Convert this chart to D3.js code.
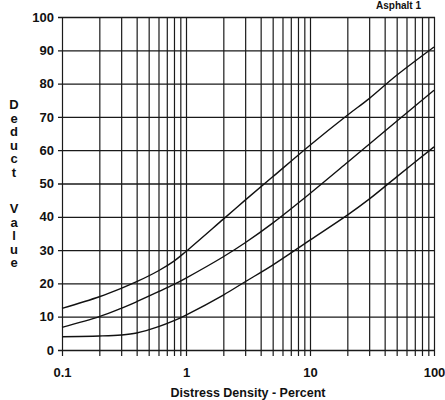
<!DOCTYPE html>
<html>
<head>
<meta charset="utf-8">
<script src="https://cdn.jsdelivr.net/npm/d3@7"></script>
<style>
  body { margin: 0; background: #fff; }
  text { font-family: "Liberation Sans", Arial, sans-serif; fill: #111; }
</style>
</head>
<body>
<div id="chart"></div>
<script>
var svgWidth = 445;
var svgHeight = 400;

// distress density (%) and deduct values
var density = [0.1, 0.2, 0.3, 0.4, 0.6, 0.8, 1, 2, 3, 5, 10, 20, 30, 50, 100];
var highCurve = [12.5, 16, 18.5, 20.5, 23.8, 26.7, 29.6, 39.3, 45, 52, 61.5, 70.5, 75.5, 82.5, 91];
var mediumCurve = [6.8, 10, 12.5, 14.5, 17.5, 19.7, 21.6, 28, 32.2, 38.1, 47, 56.3, 61.8, 68.7, 78];
var lowCurve = [4, 4.2, 4.5, 5.1, 7, 8.8, 10.5, 16.5, 20.5, 25.5, 33, 40.5, 45.3, 52, 61];

var xTicks = [0.1, 1, 10, 100];
var yTicks = [0, 10, 20, 30, 40, 50, 60, 70, 80, 90, 100];
var yLetters1 = ["D", "e", "d", "u", "c", "t"];
var yLetters2 = ["V", "a", "l", "u", "e"];

var svg = d3.select("#chart")
  .append("svg")
  .attr("width", svgWidth)
  .attr("height", svgHeight);

var x = d3.scaleLog().domain([0.1, 100]).range([62, 434]);
var y = d3.scaleLinear().domain([0, 100]).range([350, 17]);

// every minor log line 0.1..100
var xGrid = [];
[0.1, 1, 10].forEach(function(d) {
  for (var i = 1; i < 10; i++) xGrid.push(+(d * i).toFixed(3));
});
xGrid.push(100);

// vertical grid lines as bottom axis ticks
var xAxis = svg.append("g")
  .attr("transform", "translate(0," + 356 + ")")
  .call(d3.axisBottom(x)
    .tickValues(xGrid)
    .tickSize(-(356 - 17))
    .tickSizeOuter(0)
    .tickPadding(12)
    .tickFormat(function(d) { return xTicks.indexOf(d) >= 0 ? String(d) : ""; }));
xAxis.select(".domain").remove();
xAxis.selectAll("line").attr("stroke", "#1a1a1a").attr("stroke-width", 1.2);
xAxis.selectAll("text")
  .style("font-size", "13px")
  .style("font-weight", "bold")
  .style("font-family", "'Liberation Sans', Arial, sans-serif")
  .attr("fill", "#111");

// horizontal grid lines as left axis ticks
var yAxis = svg.append("g")
  .attr("transform", "translate(" + 58 + ",0)")
  .call(d3.axisLeft(y)
    .tickValues(yTicks)
    .tickSize(-(435 - 58))
    .tickSizeOuter(0)
    .tickPadding(4));
yAxis.select(".domain").remove();
yAxis.selectAll("line").attr("stroke", "#1a1a1a").attr("stroke-width", 1.3);
yAxis.selectAll("text")
  .style("font-size", "13px")
  .style("font-weight", "bold")
  .style("font-family", "'Liberation Sans', Arial, sans-serif")
  .attr("fill", "#111");

// curves
var line = d3.line()
  .x(function(d) { return x(d[0]); })
  .y(function(d) { return y(d[1]); })
  .curve(d3.curveCatmullRom.alpha(0.5));

[highCurve, mediumCurve, lowCurve].forEach(function(c) {
  svg.append("path")
    .datum(density.map(function(d, i) { return [d, c[i]]; }))
    .attr("fill", "none")
    .attr("stroke", "#111")
    .attr("stroke-width", 1.4)
    .attr("d", line);
});

// stacked y label
var yl = svg.append("g").attr("font-size", "13px").attr("font-weight", "bold").attr("text-anchor", "middle");
yLetters1.forEach(function(l, i) {
  yl.append("text").attr("x", 14).attr("y", 109 + i * 13.5).text(l);
});
yLetters2.forEach(function(l, i) {
  yl.append("text").attr("x", 14).attr("y", 213 + i * 13.5).text(l);
});

// x label
svg.append("text")
  .attr("x", 248)
  .attr("y", 397)
  .attr("text-anchor", "middle")
  .attr("font-size", "12.5px")
  .attr("font-weight", "bold")
  .text("Distress Density - Percent");

// caption at the top edge
svg.append("text")
  .attr("x", 376)
  .attr("y", 9)
  .attr("font-size", "10px")
  .attr("font-weight", "bold")
  .text("Asphalt 1");
</script>
</body>
</html>
